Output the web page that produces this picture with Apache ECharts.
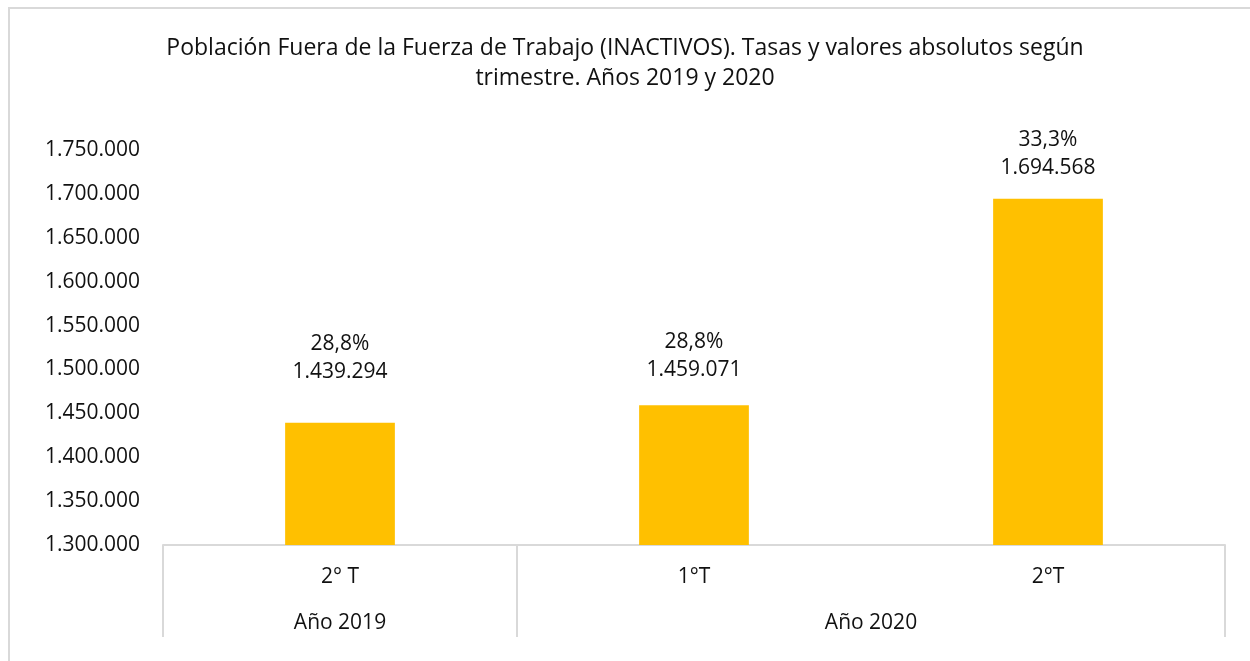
<!DOCTYPE html>
<html>
<head>
<meta charset="utf-8">
<script src="https://cdn.jsdelivr.net/npm/echarts@6/dist/echarts.min.js"></script>
<style>
  html, body { margin: 0; padding: 0; background: #fff; overflow: hidden; }
  #frame { position: absolute; left: 8px; top: 7px; width: 1300px; height: 700px; border: 2px solid #d9d9d9; box-sizing: border-box; }
  #main { position: absolute; left: 0; top: 0; width: 1250px; height: 661px; }
</style>
</head>
<body>
<div id="frame"></div>
<div id="main"></div>
<script>
// datos
var trimestres = ['2° T', '1°T', '2°T'];
var inactivos = [1439294, 1459071, 1694568];
var tasas = [28.8, 28.8, 33.3];
var grupos = ['Año 2019', 'Año 2020'];
var trimestresPorGrupo = [1, 2];

var FONT = 'Open Sans';
var TXT = '#111';
var GRIS = '#d9d9d9';
// las etiquetas del original están colocadas a mano, a distinta altura
var distEtiqueta = [37, 21, 17];

function miles(v) {
  return String(Math.round(v)).replace(/\B(?=(\d{3})+(?!\d))/g, '.');
}

// posiciones de los separadores y de las etiquetas de grupo (en unidades de categoría)
var cortes = [0], centros = [], acum = 0;
trimestresPorGrupo.forEach(function (n) {
  centros.push(acum + n / 2);
  acum += n;
  cortes.push(acum);
});

var chart = echarts.init(document.getElementById('main'), null, { renderer: 'canvas' });

var option = {
  backgroundColor: 'transparent',
  title: {
    text: 'Población Fuera de la Fuerza de Trabajo (INACTIVOS). Tasas y valores absolutos según\ntrimestre. Años 2019 y 2020',
    left: 'center',
    top: 28,
    textStyle: { fontFamily: FONT, fontSize: 23, fontWeight: 'normal', color: TXT, lineHeight: 30 }
  },
  grid: { left: 163, right: 25, top: 150, bottom: 116 },
  xAxis: [
    {
      type: 'category',
      data: trimestres,
      axisLine: { lineStyle: { color: GRIS, width: 2 } },
      axisTick: { show: false },
      axisLabel: { fontFamily: FONT, fontSize: 21, color: TXT, margin: 22 }
    },
    {
      type: 'value',
      position: 'bottom',
      min: 0,
      max: trimestres.length,
      axisLine: { show: false },
      splitLine: { show: false },
      axisTick: {
        show: true,
        customValues: cortes,
        length: 92,
        lineStyle: { color: GRIS, width: 2 }
      },
      axisLabel: {
        customValues: centros,
        fontFamily: FONT, fontSize: 21, color: TXT, margin: 68,
        formatter: function (v) {
          var i = centros.indexOf(v);
          return i >= 0 ? grupos[i] : '';
        }
      }
    }
  ],
  yAxis: {
    type: 'value',
    min: 1300000,
    max: 1750000,
    interval: 50000,
    axisLine: { show: false },
    axisTick: { show: false },
    splitLine: { show: false },
    axisLabel: {
      fontFamily: FONT, fontSize: 21, color: TXT, margin: 23,
      formatter: function (v) { return miles(v); }
    }
  },
  series: [
    {
      type: 'bar',
      xAxisIndex: 0,
      data: inactivos.map(function (v, i) {
        return { value: v, label: { distance: distEtiqueta[i] } };
      }),
      barWidth: '31%',
      itemStyle: { color: '#FFC000' },
      label: {
        show: true,
        position: 'top',
        fontFamily: FONT,
        fontSize: 21,
        lineHeight: 28,
        color: TXT,
        formatter: function (p) {
          return tasas[p.dataIndex].toFixed(1).replace('.', ',') + '%\n' + miles(p.value);
        }
      }
    }
  ]
};

chart.setOption(option);
</script>
</body>
</html>
